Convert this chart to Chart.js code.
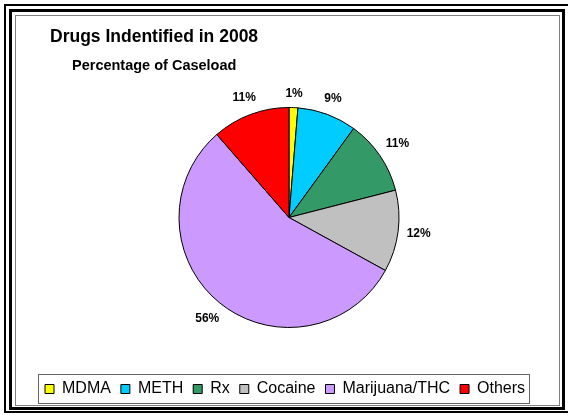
<!DOCTYPE html>
<html>
<head>
<meta charset="utf-8">
<script src="https://cdn.jsdelivr.net/npm/chart.js@4"></script>
<style>
html, body { margin: 0; padding: 0; background: #fff; overflow: hidden; }
#wrap { position: relative; width: 568px; height: 415px; overflow: hidden; }
.frame { position: absolute; box-sizing: border-box; }
#fa { left: 4px; top: 4px; width: 620px; height: 409px; border: 2px solid #000; }
#fb { left: 9px; top: 9px; width: 556px; height: 401px; border: 3px solid #000; }
#fc { left: 15px; top: 15px; width: 545px; height: 391px; border: 1px solid #808080; }
canvas { position: absolute; left: 0; top: 0; }
</style>
</head>
<body>
<div id="wrap">
  <div class="frame" id="fa"></div>
  <div class="frame" id="fb"></div>
  <div class="frame" id="fc"></div>
  <canvas id="mygraph" width="568" height="415"></canvas>
</div>
<script>
const categories = ['MDMA', 'METH', 'Rx', 'Cocaine', 'Marijuana/THC', 'Others'];
const caseloadPct = [1.3, 8.7, 11, 12, 55.6, 11.4];
const sliceColors = ['#FFFF00', '#00CCFF', '#339966', '#C0C0C0', '#CC99FF', '#FF0000'];
const chartTitle = 'Drugs Indentified in 2008';
const chartSubtitle = 'Percentage of Caseload';

const FONT = '"Liberation Sans", Arial, sans-serif';
Chart.defaults.font.family = FONT;

// titles, percent labels outside the slices, box round the legend
const decorations = {
  id: 'decorations',
  afterDatasetsDraw(chart) {
    const ctx = chart.ctx;
    const meta = chart.getDatasetMeta(0);
    ctx.save();
    ctx.fillStyle = '#000';
    ctx.font = 'bold 12px ' + FONT;
    ctx.textAlign = 'center';
    ctx.textBaseline = 'middle';
    meta.data.forEach((arc, i) => {
      const p = arc.getProps(['x', 'y', 'startAngle', 'endAngle', 'outerRadius'], true);
      const mid = (p.startAngle + p.endAngle) / 2;
      const text = Math.round(chart.data.datasets[0].data[i]) + '%';
      const hw = ctx.measureText(text).width / 2;
      const c = Math.cos(mid), s = Math.sin(mid);
      const d = p.outerRadius + 8 + Math.abs(c) * hw + Math.abs(s) * 6;
      ctx.fillText(text, p.x + c * d, p.y + s * d);
    });

    ctx.textAlign = 'left';
    ctx.textBaseline = 'alphabetic';
    ctx.font = 'bold 17.5px ' + FONT;
    ctx.fillText(chartTitle, 50, 42);
    ctx.font = 'bold 14.5px ' + FONT;
    ctx.fillText(chartSubtitle, 72, 70);
    ctx.restore();
  },
  afterDraw(chart) {
    const boxes = chart.legend && chart.legend.legendHitBoxes;
    if (!boxes || !boxes.length) return;
    const first = boxes[0], last = boxes[boxes.length - 1];
    const ctx = chart.ctx;
    ctx.save();
    ctx.strokeStyle = '#666';
    ctx.lineWidth = 1;
    const l = Math.round(first.left - 7) + 0.5;
    const r = Math.round(last.left + last.width + 4) + 0.5;
    const t = Math.round(first.top - 7) + 0.5;
    const b = Math.round(first.top + first.height + 6) + 0.5;
    ctx.strokeRect(l, t, r - l, b - t);
    ctx.restore();
  }
};

new Chart(document.getElementById('mygraph'), {
  type: 'pie',
  data: {
    labels: categories,
    datasets: [{
      data: caseloadPct,
      backgroundColor: sliceColors,
      borderColor: '#000',
      borderWidth: 1
    }]
  },
  options: {
    responsive: false,
    animation: false,
    radius: 110,
    layout: { padding: { left: 35, right: 25, top: 64, bottom: 8 } },
    plugins: {
      legend: {
        position: 'bottom',
        align: 'start',
        labels: {
          boxWidth: 9,
          boxHeight: 9,
          padding: 10,
          color: '#000',
          font: { size: 16 }
        }
      },
      tooltip: { enabled: false }
    }
  },
  plugins: [decorations]
});
</script>
</body>
</html>
